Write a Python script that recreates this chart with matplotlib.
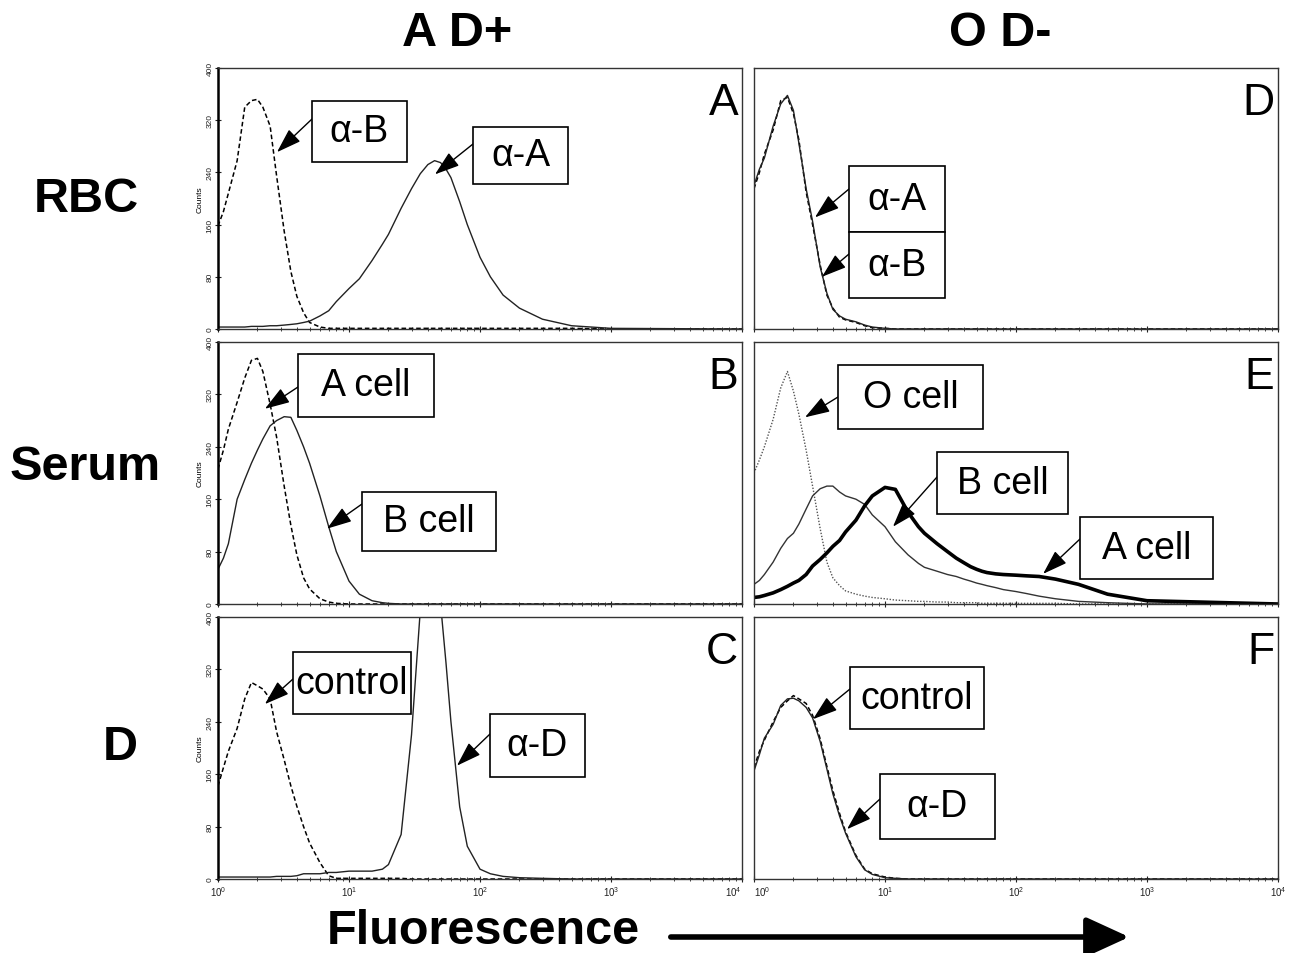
import numpy as np
import matplotlib
matplotlib.use("Agg")
import matplotlib.pyplot as plt
from matplotlib.patches import Rectangle
from matplotlib.ticker import LogLocator, NullFormatter, LogFormatterSciNotation

# ---------------- data ----------------
channels = [1, 1.1, 1.2, 1.4, 1.6, 1.8, 2.0, 2.2, 2.5, 2.8, 3.2, 3.6, 4, 4.5, 5, 6, 7, 8,
            10, 12, 15, 18, 20, 25, 30, 35, 40, 45, 50, 55, 60, 70, 80, 100, 120, 150,
            200, 300, 500, 1000, 10000]

# Panel A  (A D+, RBC)
a_antiB = [158, 180, 208, 258, 340, 350, 352, 340, 311, 235, 150, 88, 50, 25, 10, 3, 1, 1,
           1, 1, 1, 1, 1, 1, 1, 1, 1, 1, 1, 1, 1, 1, 1, 1, 1, 1, 1, 1, 1, 0, 0]
a_antiA = [3, 3, 3, 3, 3, 4, 4, 4, 5, 5, 6, 7, 8, 10, 12, 20, 28, 42,
           62, 77, 105, 130, 145, 185, 215, 238, 252, 258, 255, 245, 232, 195, 160, 110, 80, 52,
           32, 15, 5, 1, 0]
# Panel D  (O D-, RBC)
d_antiA = [220, 245, 262, 311, 345, 358, 335, 285, 215, 165, 95, 55, 30, 20, 15, 11, 6, 3,
           1, 0, 0, 0, 0, 0, 0, 0, 0, 0, 0, 0, 0, 0, 0, 0, 0, 0, 0, 0, 0, 0, 0]
d_antiB = [215, 240, 268, 305, 350, 355, 330, 290, 210, 160, 98, 52, 32, 18, 14, 10, 5, 2,
           1, 0, 0, 0, 0, 0, 0, 0, 0, 0, 0, 0, 0, 0, 0, 0, 0, 0, 0, 0, 0, 0, 0]
# Panel B  (A D+, Serum)
b_Acell = [206, 235, 267, 308, 345, 372, 375, 355, 305, 255, 180, 120, 75, 40, 23, 8, 3, 1,
           0, 0, 0, 0, 0, 0, 0, 0, 0, 0, 0, 0, 0, 0, 0, 0, 0, 0, 0, 0, 0, 0, 0]
b_Bcell = [53, 70, 92, 160, 190, 215, 235, 252, 272, 280, 286, 285, 265, 240, 215, 165, 118, 80,
           35, 15, 5, 2, 1, 0, 0, 0, 0, 0, 0, 0, 0, 0, 0, 0, 0, 0, 0, 0, 0, 0, 0]
# Panel E  (O D-, Serum)
e_Ocell = [200, 220, 240, 282, 330, 355, 325, 290, 235, 180, 115, 64, 40, 28, 20, 15, 12, 10,
           8, 6, 5, 4, 4, 3, 3, 2, 2, 2, 2, 1, 1, 1, 1, 1, 1, 1, 1, 0, 0, 0, 0]
e_Bcell = [30, 36, 45, 64, 85, 100, 108, 122, 145, 165, 176, 180, 180, 171, 165, 160, 152, 136,
           118, 95, 75, 62, 56, 50, 45, 42, 38, 35, 32, 30, 28, 25, 22, 19, 16, 12,
           8, 4, 2, 0, 0]
e_Acell = [10, 11, 13, 17, 22, 27, 32, 36, 45, 58, 68, 78, 88, 97, 110, 128, 150, 165,
           178, 175, 140, 118, 108, 92, 80, 70, 63, 57, 53, 50, 48, 46, 45, 44, 43, 42,
           38, 30, 15, 5, 0]
# Panel C  (A D+, D)
c_control = [142, 170, 195, 230, 275, 300, 295, 290, 275, 225, 182, 142, 111, 80, 55, 25, 5, 1,
             1, 1, 1, 1, 1, 1, 0, 0, 0, 0, 0, 0, 0, 0, 0, 0, 0, 0, 0, 0, 0, 0, 0]
c_antiD = [3, 3, 3, 3, 3, 3, 3, 3, 3, 4, 4, 4, 5, 8, 8, 8, 10, 10,
           12, 12, 12, 15, 22, 68, 220, 410, 480, 480, 420, 330, 240, 110, 50, 15, 8, 4,
           2, 1, 0, 0, 0]
# Panel F  (O D-, D)
f_control = [170, 195, 212, 240, 262, 272, 280, 275, 268, 250, 214, 172, 135, 100, 72, 36, 15, 8,
             3, 1, 0, 0, 0, 0, 0, 0, 0, 0, 0, 0, 0, 0, 0, 0, 0, 0, 0, 0, 0, 0, 0]
f_antiD = [165, 190, 215, 236, 265, 275, 276, 272, 262, 246, 210, 168, 130, 96, 70, 34, 14, 7,
           2, 1, 0, 0, 0, 0, 0, 0, 0, 0, 0, 0, 0, 0, 0, 0, 0, 0, 0, 0, 0, 0, 0]

col_titles = ["A D+", "O D-"]
row_titles = ["RBC", "Serum", "D"]
panel_letters = ["A", "D", "B", "E", "C", "F"]
y_ticks = [0, 80, 160, 240, 320, 400]
x_ticks = [1, 10, 100, 1000, 10000]

# ---------------- figure ----------------
W, H = 1289, 954
fig = plt.figure(figsize=(W / 100, H / 100), dpi=100)
plt.rcParams['font.family'] = ['Liberation Sans', 'DejaVu Sans']


def fp(px, py):
    return (px / W, 1 - py / H)


col_x = [218, 754]
col_w = 524
row_y = [(69, 330), (343, 605), (618, 880)]

axes = {}
for r in range(3):
    for c in range(2):
        top, bot = row_y[r]
        ax = fig.add_axes([col_x[c] / W, 1 - bot / H, col_w / W, (bot - top) / H])
        ax.set_xscale('log')
        ax.set_xlim(1, 10000)
        ax.set_ylim(0, 400)
        for s in ax.spines.values():
            s.set_color('#333333')
            s.set_linewidth(1.0)
        ax.xaxis.set_major_locator(LogLocator(base=10, numticks=10))
        ax.xaxis.set_minor_locator(LogLocator(base=10, subs=np.arange(2, 10), numticks=100))
        ax.tick_params(axis='x', which='major', direction='inout', length=5, width=0.8,
                       labelsize=7, pad=1, colors='#222222')
        ax.tick_params(axis='x', which='minor', direction='inout', length=3, width=0.6,
                       colors='#222222')
        ax.set_xticks(x_ticks)
        ax.xaxis.set_major_formatter(LogFormatterSciNotation())
        ax.xaxis.set_minor_formatter(NullFormatter())
        if r < 2:
            ax.tick_params(axis='x', which='both', labelbottom=False)
        if c == 0:
            ax.set_yticks(y_ticks)
            ax.set_yticklabels([str(v) for v in y_ticks], rotation=90, va='center')
            ax.tick_params(axis='y', direction='inout', length=4, width=0.8, labelsize=6, pad=1,
                           colors='#222222')
            ax.set_ylabel('Counts', fontsize=6, labelpad=2)
            ax.spines['left'].set_linewidth(1.8)
            ax.spines['left'].set_color('black')
        else:
            ax.set_yticks([])
        axes[(r, c)] = ax

# keep the touching 10^4 / 10^0 labels of the bottom row apart
fig.canvas.draw()
axes[(2, 0)].get_xticklabels()[-1].set_horizontalalignment('right')
axes[(2, 1)].get_xticklabels()[0].set_horizontalalignment('left')

dash = (0, (3, 1.8))
# Panel A
ax = axes[(0, 0)]
ax.plot(channels, a_antiB, color='black', lw=1.1, ls=dash)
ax.plot(channels, a_antiA, color='#222222', lw=1.0)
# Panel D
ax = axes[(0, 1)]
ax.plot(channels, d_antiB, color='black', lw=1.1, ls=dash)
ax.plot(channels, d_antiA, color='#222222', lw=1.0)
# Panel B
ax = axes[(1, 0)]
ax.plot(channels, b_Acell, color='black', lw=1.1, ls=dash)
ax.plot(channels, b_Bcell, color='#222222', lw=1.0)
# Panel E
ax = axes[(1, 1)]
ax.plot(channels, e_Ocell, color='#555555', lw=1.0, ls=(0, (1, 1.2)))
ax.plot(channels, e_Bcell, color='#333333', lw=1.0)
ax.plot(channels, e_Acell, color='black', lw=2.6)
# Panel C
ax = axes[(2, 0)]
ax.plot(channels, c_control, color='black', lw=1.1, ls=dash)
ax.plot(channels, c_antiD, color='#222222', lw=1.0)
# Panel F
ax = axes[(2, 1)]
ax.plot(channels, f_control, color='black', lw=1.1, ls=dash)
ax.plot(channels, f_antiD, color='#222222', lw=1.0)

# panel letters
order = [(0, 0), (0, 1), (1, 0), (1, 1), (2, 0), (2, 1)]
for (rc, letter) in zip(order, panel_letters):
    axes[rc].text(0.993, 0.945, letter, transform=axes[rc].transAxes, ha='right', va='top',
                  fontsize=32, color='black')


def label_box(ax, box, text, anchor, tip):
    x0, y0, x1, y1 = box
    rect = Rectangle(fp(x0, y1), (x1 - x0) / W, (y1 - y0) / H, transform=fig.transFigure,
                     facecolor='white', edgecolor='black', lw=1.2, zorder=5)
    fig.add_artist(rect)
    cx, cy = fp((x0 + x1) / 2, (y0 + y1) / 2)
    fig.text(cx, cy, text, ha='center', va='center', fontsize=27, zorder=6)
    ax.annotate('', xy=tip, xycoords='data', xytext=fp(*anchor), textcoords='figure fraction',
                annotation_clip=False,
                arrowprops=dict(arrowstyle='-|>,head_length=0.9,head_width=0.3', color='black',
                                lw=1.0, mutation_scale=17, shrinkA=0, shrinkB=0))


label_box(axes[(0, 0)], (312, 102, 407, 163), 'α-B', (312, 120), (2.82, 271))
label_box(axes[(0, 0)], (473, 128, 568, 185), 'α-A', (473, 145), (45.3, 237))
label_box(axes[(0, 1)], (849, 167, 945, 233), 'α-A', (849, 190), (2.92, 171))
label_box(axes[(0, 1)], (849, 233, 945, 299), 'α-B', (849, 255), (3.30, 80))
label_box(axes[(1, 0)], (298, 355, 434, 418), 'A cell', (298, 388), (2.28, 298))
label_box(axes[(1, 0)], (362, 493, 496, 552), 'B cell', (362, 505), (6.79, 115))
label_box(axes[(1, 1)], (838, 366, 983, 430), 'O cell', (838, 398), (2.45, 285))
label_box(axes[(1, 1)], (937, 453, 1068, 515), 'B cell', (937, 478), (11.5, 118))
label_box(axes[(1, 1)], (1080, 518, 1213, 580), 'A cell', (1080, 540), (161, 46))
label_box(axes[(2, 0)], (293, 653, 411, 715), 'control', (293, 680), (2.28, 267))
label_box(axes[(2, 0)], (490, 715, 585, 778), 'α-D', (490, 735), (66.7, 173))
label_box(axes[(2, 1)], (850, 668, 984, 730), 'control', (850, 690), (2.82, 244))
label_box(axes[(2, 1)], (880, 775, 995, 840), 'α-D', (880, 800), (5.13, 76))

# titles
fig.text(*fp(457, 33), col_titles[0], ha='center', va='center', fontsize=35, fontweight='bold')
fig.text(*fp(1000, 33), col_titles[1], ha='center', va='center', fontsize=35, fontweight='bold')
fig.text(*fp(86, 200), row_titles[0], ha='center', va='center', fontsize=35, fontweight='bold')
fig.text(*fp(85, 468), row_titles[1], ha='center', va='center', fontsize=35, fontweight='bold')
fig.text(*fp(120, 748), row_titles[2], ha='center', va='center', fontsize=35, fontweight='bold')
fig.text(*fp(483, 932), 'Fluorescence', ha='center', va='center', fontsize=35, fontweight='bold')
fig.add_artist(matplotlib.patches.FancyArrowPatch(
    fp(668, 938), fp(1132, 938), transform=fig.transFigure,
    arrowstyle='-|>,head_length=1.2,head_width=0.55', mutation_scale=22, lw=4, color='black'))

fig.savefig('out.png', dpi=100)
